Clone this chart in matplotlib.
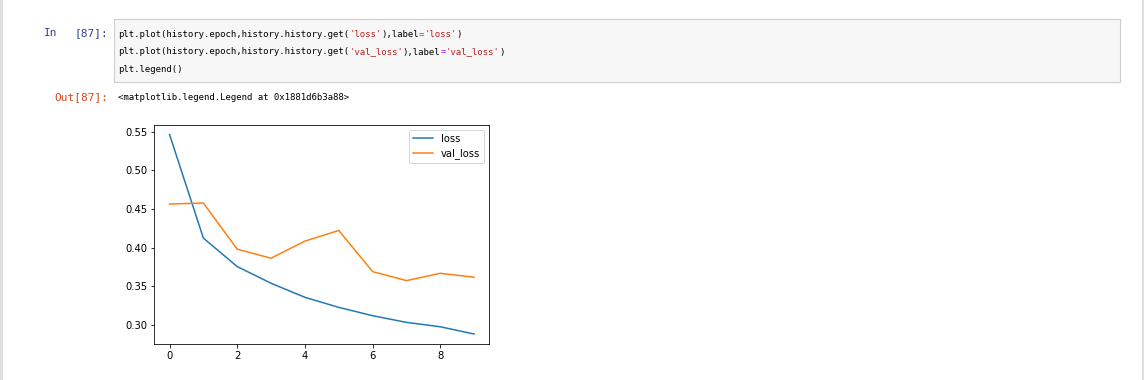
import matplotlib
matplotlib.use("Agg")
import matplotlib.pyplot as plt
from matplotlib.patches import Rectangle
from matplotlib.font_manager import FontProperties

# ---- data ----
epochs = [0, 1, 2, 3, 4, 5, 6, 7, 8, 9]
loss = [0.5466, 0.4125, 0.3757, 0.3541, 0.3359, 0.3229, 0.3121, 0.3035, 0.2978, 0.2884]
val_loss = [0.4566, 0.4579, 0.3982, 0.3865, 0.4086, 0.4224, 0.3692, 0.3575, 0.3670, 0.3619]
series_labels = ["loss", "val_loss"]

code_lines = [
    [("plt.plot(history.epoch,history.history.get(", "k"), ("'loss'", "#BA2121"),
     ("),label", "k"), ("=", "#AA22FF"), ("'loss'", "#BA2121"), (")", "k")],
    [("plt.plot(history.epoch,history.history.get(", "k"), ("'val_loss'", "#BA2121"),
     ("),label", "k"), ("=", "#AA22FF"), ("'val_loss'", "#BA2121"), (")", "k")],
    [("plt.legend()", "k")],
]
out_text = "<matplotlib.legend.Legend at 0x1881d6b3a88>"

W, H = 1144, 380
DPI = 100
s = 0.72  # scale from the embedded 72-dpi figure

plt.rcParams.update({
    "font.size": 10 * s,
    "lines.linewidth": 1.5 * s,
    "axes.linewidth": 0.8 * s,
    "xtick.major.size": 3.5 * s, "ytick.major.size": 3.5 * s,
    "xtick.major.width": 0.8 * s, "ytick.major.width": 0.8 * s,
    "xtick.major.pad": 3.5 * s, "ytick.major.pad": 3.5 * s,
    "patch.linewidth": 1.0 * s,
})

fig = plt.figure(figsize=(W / DPI, H / DPI), dpi=DPI)
fig.patch.set_facecolor("white")
renderer = fig.canvas.get_renderer()


def fx(px):
    return px / W


def fy(py):
    return 1 - py / H


# notebook borders
fig.patches.append(Rectangle((0, 0), fx(2.5), 1, transform=fig.transFigure,
                             facecolor="#e0e0e0", edgecolor="none"))
fig.patches.append(Rectangle((fx(1141.5), 0), fx(2.5), 1, transform=fig.transFigure,
                             facecolor="#e0e0e0", edgecolor="none"))
# code cell box
fig.patches.append(Rectangle((fx(113.5), fy(82)), fx(1120 - 113.5), fy(19.5) - fy(82),
                             transform=fig.transFigure, facecolor="#f7f7f7",
                             edgecolor="#cfcfcf", linewidth=0.8))

# prompts
pfs = 8.0
fig.text(fx(44), fy(33.5), "In", color="#303F9F", fontsize=pfs,
         family="DejaVu Sans Mono", va="center", ha="left")
fig.text(fx(108), fy(33.5), "[87]:", color="#303F9F", fontsize=pfs,
         family="DejaVu Sans Mono", va="center", ha="right")
fig.text(fx(108), fy(97), "Out[87]:", color="#D84315", fontsize=pfs,
         family="DejaVu Sans Mono", va="center", ha="right")

# code text: measure the rendered monospace advance, then place coloured segments
cfs = 6.5
prop = FontProperties(family="DejaVu Sans Mono", size=cfs)
w1, _, _ = renderer.get_text_width_height_descent("M", prop, ismath=False)
w101, _, _ = renderer.get_text_width_height_descent("M" * 101, prop, ismath=False)
adv = (w101 - w1) / 100.0

line_base = [37, 54.5, 72]
for segs, yb in zip(code_lines, line_base):
    k = 0
    for txt, col in segs:
        fig.text(fx(118 + k * adv), fy(yb), txt, color=col, fontproperties=prop,
                 va="baseline", ha="left")
        k += len(txt)
fig.text(fx(118), fy(100), out_text, color="k", fontproperties=prop,
         va="baseline", ha="left")

# chart
ax = fig.add_axes([fx(154.3), fy(344), fx(489.3) - fx(154.3), fy(124.5) - fy(344)])
ax.plot(epochs, loss, label=series_labels[0])
ax.plot(epochs, val_loss, label=series_labels[1])
ax.legend()

fig.savefig("out.png", dpi=DPI)
